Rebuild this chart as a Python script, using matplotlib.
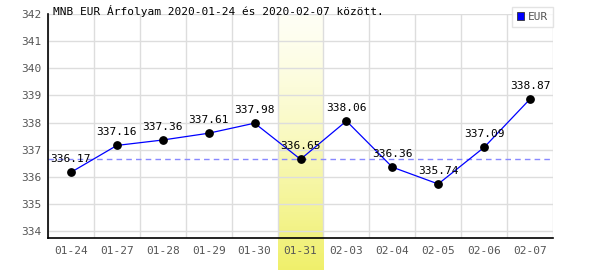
import numpy as np
import matplotlib.pyplot as plt

# data
dates = ["01-24", "01-27", "01-28", "01-29", "01-30", "01-31",
         "02-03", "02-04", "02-05", "02-06", "02-07"]
rates = [336.17, 337.16, 337.36, 337.61, 337.98, 336.65,
         338.06, 336.36, 335.74, 337.09, 338.87]
highlight_idx = 5
ref_value = 336.65
title = "MNB EUR Árfolyam 2020-01-24 és 2020-02-07 között."

plt.rcParams['font.family'] = ['DejaVu Sans Mono']

fig = plt.figure(figsize=(6, 2.7), dpi=100)
ax = fig.add_axes([0.08, 0.1185, 0.8417, 0.8295])

x = np.arange(len(dates))
ymin, ymax = 333.75, 342

# highlight band with vertical gradient, running below the axis
grad = np.linspace(0, 1, 256).reshape(-1, 1) ** 1.3
top_c = np.array([1.0, 1.0, 0.96])
bot_c = np.array([0.94, 0.94, 0.42])
img = top_c + (bot_c - top_c) * grad[:, :, None]
band_bottom = ymin - 32 / 27.1
ax.imshow(img, extent=[highlight_idx - 0.5, highlight_idx + 0.5, band_bottom, ymax],
          aspect='auto', origin='upper', clip_on=False, zorder=0)

# grid
for v in range(334, 343):
    ax.axhline(v, color="#dddddd", lw=1, zorder=1)
for b in np.arange(-0.5, len(dates) + 0.5, 1):
    ax.axvline(b, color="#dddddd", lw=1, zorder=1)

ax.axhline(ref_value, color="#8888ff", lw=1, ls=(0, (4, 3)), zorder=2)

ax.plot(x, rates, color="#0000ff", lw=0.9, zorder=3, label="EUR")
ax.scatter(x, rates, s=28, color="black", zorder=4)

for xi, v in zip(x, rates):
    ax.text(xi, v + 0.3, f"{v:.2f}", ha="center", va="bottom",
            fontsize=8, color="black", zorder=5)

ax.set_xlim(-0.5, len(dates) - 0.5)
ax.set_ylim(ymin, ymax)
ax.set_xticks(x)
ax.set_xticklabels(dates)
ax.set_yticks(range(334, 343))
ax.tick_params(length=0, labelsize=8, colors="#555555", pad=6)
ax.tick_params(axis="y", pad=5)

for s in ["top", "right"]:
    ax.spines[s].set_visible(False)
for s in ["left", "bottom"]:
    ax.spines[s].set_color("black")
    ax.spines[s].set_linewidth(1.2)

fig.text(0.088, 1 - 15 / 270, title, fontsize=8, color="black",
         va="baseline", ha="left", zorder=6)

# legend box
leg = ax.legend(handles=[plt.Rectangle((0, 0), 1, 1, fc="#0000ff", ec="#333333", lw=0.6)],
                labels=["EUR"], loc="upper right", bbox_to_anchor=(1.0, 1.031),
                fontsize=8, frameon=True, fancybox=False, handlelength=0.7,
                handleheight=0.7, handletextpad=0.3, borderpad=0.45,
                borderaxespad=0)
leg.get_frame().set_edgecolor("#dddddd")
leg.get_frame().set_linewidth(1)
for t in leg.get_texts():
    t.set_color("#555555")

fig.savefig("out.png", dpi=100)
